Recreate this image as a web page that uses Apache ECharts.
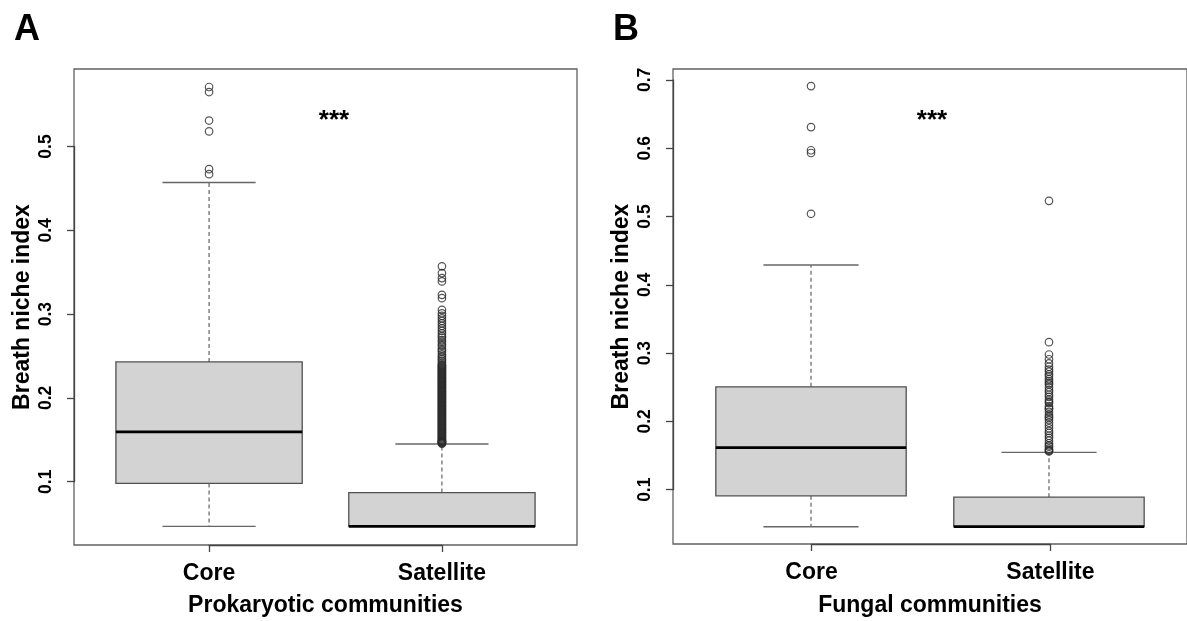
<!DOCTYPE html>
<html><head><meta charset="utf-8">
<script src="https://cdn.jsdelivr.net/npm/echarts@6/dist/echarts.min.js"></script>
<style>html,body{margin:0;padding:0;background:#fff}#c{width:1187px;height:621px}</style>
</head><body><div id="c"></div>
<script>
// ---------------- DATA ----------------
const categories = ['Core', 'Satellite'];
// [lower whisker, Q1, median, Q3, upper whisker]
const prokCoreStats = [0.0467, 0.098, 0.1595, 0.243, 0.457];
const prokSatStats  = [0.0467, 0.0467, 0.0467, 0.087, 0.145];
const prokCoreOutliers = [0.571, 0.565, 0.531, 0.518, 0.473, 0.467];
const prokSatOutliers = [
  0.357, 0.349, 0.343, 0.339, 0.323, 0.319, 0.305, 0.301, 0.298, 0.295, 0.292,
  0.289, 0.286, 0.283, 0.280, 0.277, 0.274, 0.272, 0.269, 0.267, 0.264, 0.262,
  0.259, 0.257, 0.255, 0.252, 0.250, 0.248, 0.246, 0.244, 0.242, 0.240, 0.238,
  0.236, 0.234, 0.232, 0.230, 0.228, 0.226, 0.224, 0.222, 0.220, 0.218, 0.216,
  0.214, 0.212, 0.210, 0.208, 0.206, 0.204, 0.202, 0.200, 0.198, 0.196, 0.194,
  0.192, 0.190, 0.188, 0.186, 0.184, 0.182, 0.180, 0.178, 0.176, 0.174, 0.172,
  0.170, 0.168, 0.166, 0.164, 0.162, 0.160, 0.158, 0.156, 0.154, 0.152, 0.150,
  0.149, 0.148, 0.147, 0.146,
  0.239, 0.237, 0.235, 0.233, 0.231, 0.229, 0.227, 0.225, 0.223, 0.221, 0.219,
  0.217, 0.215, 0.213, 0.211, 0.209, 0.207, 0.205, 0.203, 0.201, 0.199, 0.197,
  0.195, 0.193, 0.191, 0.189, 0.187, 0.185, 0.183, 0.181, 0.179, 0.177, 0.175,
  0.173, 0.171, 0.169, 0.167, 0.165, 0.163, 0.161, 0.159, 0.157, 0.155, 0.153,
  0.151, 0.1485, 0.1475, 0.1465, 0.1455
];
const fungCoreStats = [0.0458, 0.091, 0.1615, 0.2507, 0.429];
const fungSatStats  = [0.0458, 0.0458, 0.0458, 0.089, 0.1546];
const fungCoreOutliers = [0.691, 0.631, 0.597, 0.593, 0.504];
const fungSatOutliers = [
  0.523, 0.316, 0.298, 0.291, 0.285, 0.280, 0.276, 0.273, 0.269, 0.266, 0.262,
  0.259, 0.256, 0.254, 0.250, 0.246, 0.243, 0.239, 0.236, 0.232, 0.229, 0.227,
  0.222, 0.219, 0.218, 0.214, 0.210, 0.207, 0.205, 0.202, 0.198, 0.194, 0.190,
  0.186, 0.183, 0.179, 0.176, 0.172, 0.168, 0.165, 0.163, 0.160, 0.158, 0.157,
  0.156
];
const prokTicks = [0.1, 0.2, 0.3, 0.4, 0.5];
const fungTicks = [0.1, 0.2, 0.3, 0.4, 0.5, 0.6, 0.7];
const yLabel = 'Breath niche index';
const panelLetters = ['A', 'B'];
const panelTitles = ['Prokaryotic communities', 'Fungal communities'];
const signif = '***';

// ---------------- LAYOUT ----------------
const panels = [
  { left: 74, top: 69, width: 503, height: 476, yMin: 0.0245, yMax: 0.5925,
    stats: [prokCoreStats, prokSatStats], outliers: [prokCoreOutliers, prokSatOutliers],
    ticks: prokTicks, title: panelTitles[0], letter: panelLetters[0] },
  { left: 673, top: 69, width: 516, height: 475, yMin: 0.0205, yMax: 0.716,
    stats: [fungCoreStats, fungSatStats], outliers: [fungCoreOutliers, fungSatOutliers],
    ticks: fungTicks, title: panelTitles[1], letter: panelLetters[1] }
];
const xMin = 0.42, xMax = 2.58;
const FONT = '"Liberation Sans", Arial, Helvetica, sans-serif';

const grid = [], xAxis = [], yAxis = [], series = [], graphic = [];

function boxRender(params, api) {
  const x = api.value(0);
  const lo = api.coord([x, api.value(1)]);
  const q1 = api.coord([x, api.value(2)]);
  const md = api.coord([x, api.value(3)]);
  const q3 = api.coord([x, api.value(4)]);
  const hi = api.coord([x, api.value(5)]);
  const hb = api.size([0.4, 0])[0];
  const hc = api.size([0.2, 0])[0];
  const cx = md[0];
  const wStyle = { stroke: '#555', lineWidth: 1.1, lineDash: [4, 3] };
  const cStyle = { stroke: '#666', lineWidth: 1.4 };
  return { type: 'group', children: [
    { type: 'line', shape: { x1: cx, y1: q3[1], x2: cx, y2: hi[1] }, style: wStyle },
    { type: 'line', shape: { x1: cx, y1: q1[1], x2: cx, y2: lo[1] }, style: wStyle },
    { type: 'line', shape: { x1: cx - hc, y1: hi[1], x2: cx + hc, y2: hi[1] }, style: cStyle },
    { type: 'line', shape: { x1: cx - hc, y1: lo[1], x2: cx + hc, y2: lo[1] }, style: cStyle },
    { type: 'rect', shape: { x: cx - hb, y: q3[1], width: 2 * hb, height: q1[1] - q3[1] },
      style: { fill: '#d3d3d3', stroke: '#505050', lineWidth: 1.3 } },
    { type: 'line', shape: { x1: cx - hb, y1: md[1], x2: cx + hb, y2: md[1] },
      style: { stroke: '#000', lineWidth: 2.8 } }
  ]};
}

panels.forEach((p, i) => {
  const base = i * 3;
  const py = v => p.top + (p.yMax - v) / (p.yMax - p.yMin) * p.height;
  const px = v => p.left + (v - xMin) / (xMax - xMin) * p.width;
  const tMin = p.ticks[0], tMax = p.ticks[p.ticks.length - 1];
  grid.push({ left: p.left, top: p.top, width: p.width, height: p.height, show: true,
    borderColor: '#606060', borderWidth: 1.3, backgroundColor: 'transparent' });
  grid.push({ left: p.left, top: py(tMax), width: 2, height: py(tMin) - py(tMax) });
  grid.push({ left: px(1), top: p.top + p.height - 2, width: px(2) - px(1), height: 2 });

  xAxis.push({ gridIndex: base, type: 'value', min: xMin, max: xMax, show: false });
  yAxis.push({ gridIndex: base, type: 'value', min: p.yMin, max: p.yMax, show: false });

  xAxis.push({ gridIndex: base + 1, type: 'value', show: false, min: 0, max: 1 });
  yAxis.push({ gridIndex: base + 1, type: 'value', min: tMin, max: tMax, interval: 0.1,
    position: 'left', splitLine: { show: false },
    axisLine: { show: true, lineStyle: { color: '#444', width: 1.3 } },
    axisTick: { show: true, length: 7, lineStyle: { color: '#444', width: 1.3 } },
    axisLabel: { rotate: 90, margin: 19, fontFamily: FONT, fontWeight: 'bold', fontSize: 17.5,
      color: '#000', formatter: v => (+v).toFixed(1) } });

  xAxis.push({ gridIndex: base + 2, type: 'value', min: 1, max: 2, interval: 1, position: 'bottom',
    splitLine: { show: false },
    axisLine: { show: true, lineStyle: { color: '#444', width: 1.3 } },
    axisTick: { show: true, length: 7, lineStyle: { color: '#444', width: 1.3 } },
    axisLabel: { margin: 17, fontFamily: FONT, fontWeight: 'bold', fontSize: 23, color: '#000',
      formatter: v => categories[Math.round(v) - 1] || '' } });
  yAxis.push({ gridIndex: base + 2, type: 'value', show: false, min: 0, max: 1 });

  series.push({ type: 'custom', xAxisIndex: base, yAxisIndex: base, renderItem: boxRender,
    silent: true, z: 2,
    data: p.stats.map((s, k) => [k + 1].concat(s)) });
  series.push({ type: 'scatter', xAxisIndex: base, yAxisIndex: base, silent: true, z: 3,
    symbol: 'circle', symbolSize: 7.5,
    itemStyle: { color: 'rgba(0,0,0,0)', borderColor: '#2a2a2a', borderWidth: 1.2 },
    data: p.outliers.flatMap((arr, k) => arr.map(v => [k + 1, v])) });

  graphic.push({ type: 'text', x: p.left - 51, y: p.top + p.height / 2, rotation: Math.PI / 2,
    style: { text: yLabel, font: 'bold 23px ' + FONT, fill: '#000', textAlign: 'center', textVerticalAlign: 'middle' } });
  graphic.push({ type: 'text', x: p.left + 251.5 + (i ? 5.5 : 0), y: 606,
    style: { text: p.title, font: 'bold 23px ' + FONT, fill: '#000', textAlign: 'center', textVerticalAlign: 'middle' } });
  graphic.push({ type: 'text', x: p.left - 47, y: 30,
    style: { text: p.letter, font: 'bold 36px ' + FONT, fill: '#000', textAlign: 'center', textVerticalAlign: 'middle' } });
  graphic.push({ type: 'text', x: p.left + (i ? 259 : 260), y: 121,
    style: { text: signif, font: 'bold 26px ' + FONT, fill: '#000', textAlign: 'center', textVerticalAlign: 'middle' } });
});

const chart = echarts.init(document.getElementById('c'), null, { renderer: 'canvas' });
chart.setOption({ animation: false, backgroundColor: '#fff', grid, xAxis, yAxis, series, graphic });
</script></body></html>
